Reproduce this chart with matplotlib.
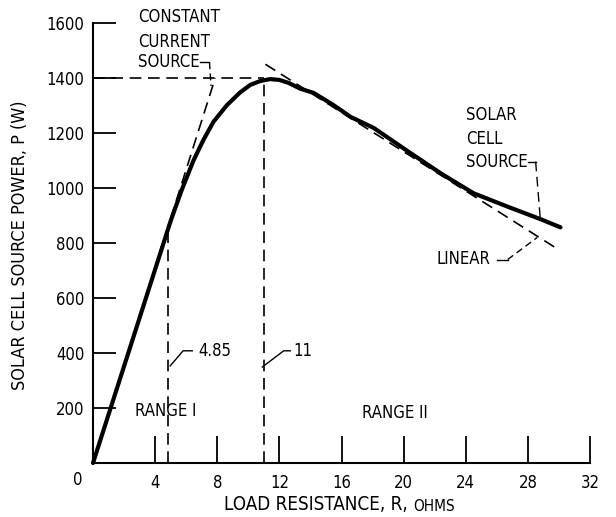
import os
import matplotlib
matplotlib.use("Agg")
import matplotlib.pyplot as plt
import matplotlib.font_manager as fm

# ---- data ----
R_curve = [0, 2, 4, 5, 5.72, 6.47, 7.12, 7.76, 8.62, 9.48, 10.13, 10.77, 11.4, 12.0, 12.6,
           13.35, 14.2, 15.5, 16.6, 18.06, 20.26, 22.4, 24.5, 26.7, 28.8, 30.1]
P_curve = [0, 352, 704, 880, 994, 1100, 1176, 1241, 1301, 1348, 1375, 1389, 1396, 1393, 1382,
           1361, 1346, 1301, 1258, 1219, 1134, 1053, 981, 932, 887, 857]

R_const = [0, 7.87]          # constant current source line
P_const = [0, 1400]
R_lin = [11.1, 30.0]         # linear approximation
P_lin = [1450, 775]
P_max = 1400
R_a = 4.85
P_a = 860
R_b = 11.0

xticks = [4, 8, 12, 16, 20, 24, 28, 32]
yticks = [200, 400, 600, 800, 1000, 1200, 1400, 1600]

# ---- pick a condensed font if one is installed ----
def find_condensed():
    prefs = ["LiberationSansNarrow-Regular", "DejaVuSansCondensed.ttf", "NotoSans-Condensed.ttf",
             "NotoSans-Condensed-Regular", "RobotoCondensed-Regular", "OpenSans_Condensed-Regular",
             "OpenSansCondensed"]
    files = [f.fname for f in fm.fontManager.ttflist]
    for p in prefs:
        for fn in files:
            if p in os.path.basename(fn):
                return fn
    for f in fm.fontManager.ttflist:
        b = os.path.basename(f.fname)
        if ("Condensed" in b or "Narrow" in b) and not any(
                k in b for k in ["Bold", "Italic", "Oblique", "Light", "Thin", "Black", "Medium", "Semi", "Extra"]):
            return f.fname
    return None

COND = find_condensed()
SCALE = 1.0 if COND else 0.86

def fp(size):
    if COND:
        return fm.FontProperties(fname=COND, size=size)
    return fm.FontProperties(family=["DejaVu Sans"], size=size * SCALE)

fig = plt.figure(figsize=(6.16, 5.17), dpi=100)
ax = fig.add_axes([93/616, 1-463/517, (590-93)/616, (463-23)/517])
ax.set_xlim(0, 32)
ax.set_ylim(0, 1600)

for s in ["top", "right"]:
    ax.spines[s].set_visible(False)
for s in ["left", "bottom"]:
    ax.spines[s].set_linewidth(1.5)

ax.set_xticks(xticks)
ax.set_xticklabels([str(v) for v in xticks])
ax.set_yticks(yticks)
ax.set_yticklabels([str(v) for v in yticks])
ax.tick_params(axis="x", direction="in", length=19.5, width=1.3, pad=8)
ax.tick_params(axis="y", direction="in", length=16.5, width=1.3, pad=6)
tfs = 12
for lab in ax.get_xticklabels() + ax.get_yticklabels():
    lab.set_fontproperties(fp(tfs))
ax.annotate("0", xy=(0, 0), xycoords="data", xytext=(-15, -17),
            textcoords="offset pixels", ha="center", va="center", fontproperties=fp(tfs))

dash = (0, (7, 4))
lw_d = 1.2
# dashed reference lines
ax.plot([0, R_b], [P_max, P_max], color="black", lw=lw_d, linestyle=dash, clip_on=False)
ax.plot(R_const, P_const, color="black", lw=lw_d, linestyle=dash, clip_on=False)
ax.plot(R_lin, P_lin, color="black", lw=lw_d, linestyle=dash, clip_on=False)
ax.plot([R_a, R_a], [0, P_a], color="black", lw=lw_d, linestyle=dash, clip_on=False)
ax.plot([R_b, R_b], [0, P_max], color="black", lw=lw_d, linestyle=dash, clip_on=False)

# main curve
ax.plot(R_curve, P_curve, color="black", lw=3.0, solid_capstyle="round",
        solid_joinstyle="round", clip_on=False, zorder=5)

fs = 12
# labels for 4.85 and 11
ax.plot([4.97, 5.8, 6.39], [353, 408, 408], color="black", lw=1.0)
ax.text(6.75, 408, "4.85", fontproperties=fp(fs), va="center", ha="left")
ax.plot([10.9, 12.28, 12.7], [349, 408, 408], color="black", lw=1.0)
ax.text(12.9, 408, "11", fontproperties=fp(fs), va="center", ha="left")

ax.text(2.7, 189, "RANGE I", fontproperties=fp(fs), va="center", ha="left")
ax.text(17.3, 182, "RANGE II", fontproperties=fp(fs), va="center", ha="left")

# constant current source label
ax.text(2.9, 1622, "CONSTANT", fontproperties=fp(fs), va="center", ha="left", clip_on=False)
ax.text(2.9, 1532, "CURRENT", fontproperties=fp(fs), va="center", ha="left")
ax.text(2.9, 1457, "SOURCE", fontproperties=fp(fs), va="center", ha="left")
ax.plot([6.9, 7.5], [1457, 1457], color="black", lw=1.0)
ax.plot([7.5, 7.6], [1457, 1371], color="black", lw=1.0, linestyle=(0, (5, 3)))

# solar cell source label
ax.text(24.0, 1265, "SOLAR", fontproperties=fp(fs), va="center", ha="left")
ax.text(24.0, 1177, "CELL", fontproperties=fp(fs), va="center", ha="left")
ax.text(24.0, 1096, "SOURCE", fontproperties=fp(fs), va="center", ha="left")
ax.plot([28.0, 28.5], [1096, 1096], color="black", lw=1.0)
ax.plot([28.5, 28.8], [1096, 887], color="black", lw=1.0, linestyle=(0, (7, 4)))

# linear label
ax.text(22.1, 740, "LINEAR", fontproperties=fp(fs), va="center", ha="left")
ax.plot([26.0, 26.7], [740, 740], color="black", lw=1.0)
ax.plot([26.7, 28.6], [740, 820], color="black", lw=1.0, linestyle=(0, (5, 3)))

# axis titles
fig.text(20/616, 1-245/517, "SOLAR CELL SOURCE POWER, P (W)", rotation=90,
         ha="center", va="center", fontproperties=fp(13))
t1 = fig.text(224/616, 1-505/517, "LOAD RESISTANCE, R, ", ha="left", va="center",
              fontproperties=fp(13.5))
ax.annotate("OHMS", xy=(1, 0), xycoords=t1, xytext=(0, 0.5), textcoords="offset points",
            ha="left", va="bottom", fontproperties=fp(11), annotation_clip=False)

fig.savefig("out.png", dpi=100)
